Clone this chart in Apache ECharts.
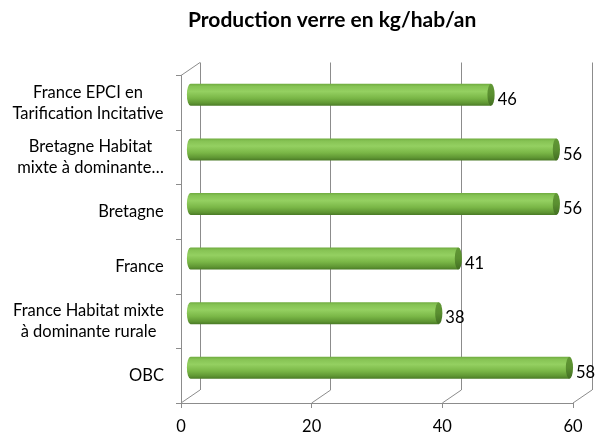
<!DOCTYPE html>
<html><head><meta charset="utf-8">
<script src="https://cdn.jsdelivr.net/npm/echarts@6/dist/echarts.min.js"></script>
<style>html,body{margin:0;padding:0;background:#fff}#c{width:595px;height:439px}</style>
</head><body><div id="c"></div>
<script>
const categories = [
  "France EPCI en\nTarification Incitative",
  "Bretagne Habitat\nmixte à dominante…",
  "Bretagne",
  "France",
  "France Habitat mixte\nà dominante rurale",
  "OBC"
];
const values = [46, 56, 56, 41, 38, 58];
const xTicks = [0, 20, 40, 60];
const titleText = "Production verre en kg/hab/an";

const FONT = "Lato";
const CAT_SIZE = 16.5;
const NUM_SIZE = 16.5;
const GRID_COLOR = "#8c8c8c";
const DX = 19, DY = -13;

// measure lines to centre multi-line labels in a right-aligned box
const ctx = document.createElement('canvas').getContext('2d');
ctx.font = CAT_SIZE + "px " + FONT;
const rich = {};
const labelMap = {};
categories.forEach((c, i) => {
  const lines = c.split('\n');
  const w = Math.max(...lines.map(l => ctx.measureText(l).width));
  rich['l' + i] = {width: Math.ceil(w), align: 'center', fontFamily: FONT, fontSize: CAT_SIZE, color: '#000', lineHeight: 21};
  labelMap[c] = lines.map(l => '{l' + i + '|' + l + '}').join('\n');
});

const chart = echarts.init(document.getElementById('c'), null, {renderer: 'canvas'});

function cylinder(params, api) {
  const v = api.value(0), ci = api.value(1);
  const p0 = api.coord([0, ci]);
  const p1 = api.coord([v, ci]);
  const h = 22, rx = 3.6, ry = h / 2;
  const cy = p0[1] - 8;
  const x0 = p0[0] + 9.5, x1 = p1[0] + 9.5;
  const top = cy - ry, bot = cy + ry;
  const grad = new echarts.graphic.LinearGradient(0, 0, 0, 1, [
    {offset: 0, color: '#6fab3f'},
    {offset: 0.12, color: '#86c354'},
    {offset: 0.35, color: '#94d061'},
    {offset: 0.65, color: '#7ab747'},
    {offset: 0.88, color: '#5f9633'},
    {offset: 1, color: '#4a7a26'}
  ]);
  const capGrad = new echarts.graphic.LinearGradient(0, 0, 0, 1, [
    {offset: 0, color: '#629836'},
    {offset: 0.5, color: '#5a8f30'},
    {offset: 1, color: '#426e22'}
  ]);
  return {
    type: 'group',
    children: [
      {type: 'path', shape: {pathData:
        `M${x0} ${top} L${x1} ${top} L${x1} ${bot} L${x0} ${bot} A${rx} ${ry} 0 0 1 ${x0} ${top} Z`},
        style: {fill: grad, stroke: null}},
      {type: 'path', shape: {pathData:
        `M${x1} ${top} A${rx} ${ry} 0 1 1 ${x1} ${bot} A${rx} ${ry} 0 1 1 ${x1} ${top} Z`},
        style: {fill: capGrad, stroke: null}},
      {type: 'text', style: {text: String(v), x: x1 + rx + 3, y: cy + 5,
        fill: '#000', font: NUM_SIZE + 'px ' + FONT, textVerticalAlign: 'middle', textAlign: 'left'}}
    ]
  };
}

function floorLines(params, api) {
  const cs = params.coordSys;
  const p = api.coord([api.value(0), 0]);
  const bottom = cs.y + cs.height;
  const children = [
    {type: 'line', shape: {x1: p[0], y1: bottom, x2: p[0] + DX, y2: bottom + DY},
     style: {stroke: GRID_COLOR, lineWidth: 1}}
  ];
  if (params.dataIndex === 0) {
    children.push({type: 'line', shape: {x1: cs.x, y1: cs.y, x2: cs.x + DX, y2: cs.y + DY},
      style: {stroke: GRID_COLOR, lineWidth: 1}});
  }
  return {type: 'group', children};
}

const option = {
  backgroundColor: '#fff',
  animation: false,
  title: {
    text: titleText, left: 183, top: 5,
    textStyle: {fontFamily: FONT, fontSize: 21, fontWeight: 'bold', color: '#000'}
  },
  grid: [
    {left: 181, right: 22, top: 75.5, bottom: 36},
    {left: 200, right: 3, top: 62.5, bottom: 49}
  ],
  xAxis: [
    {gridIndex: 0, type: 'value', min: 0, max: 60, interval: 20,
     axisLine: {show: true, lineStyle: {color: GRID_COLOR}},
     axisTick: {show: true, length: 5, lineStyle: {color: GRID_COLOR}},
     splitLine: {show: false},
     axisLabel: {margin: 15, fontFamily: FONT, fontSize: NUM_SIZE, color: '#000'}},
    {gridIndex: 1, type: 'value', min: 0, max: 60, interval: 20,
     axisLine: {show: false}, axisTick: {show: false}, axisLabel: {show: false},
     splitLine: {show: true, lineStyle: {color: GRID_COLOR, width: 1}}}
  ],
  yAxis: [
    {gridIndex: 0, type: 'category', data: categories, inverse: true,
     axisLine: {show: true, lineStyle: {color: GRID_COLOR}},
     axisTick: {show: true, length: 5, alignWithLabel: false, lineStyle: {color: GRID_COLOR}},
     axisLabel: {margin: 17, formatter: v => labelMap[v], rich: rich, align: 'right'}},
    {gridIndex: 1, type: 'category', data: categories, inverse: true, show: false}
  ],
  series: [
    {type: 'custom', xAxisIndex: 0, yAxisIndex: 0, renderItem: floorLines,
     data: xTicks.map(t => [t]), encode: {x: 0}, z: 1, silent: true},
    {type: 'custom', xAxisIndex: 0, yAxisIndex: 0, renderItem: cylinder,
     data: values.map((v, i) => [v, i]), encode: {x: 0, y: 1}, z: 5, silent: true}
  ]
};
chart.setOption(option);
</script>
</body></html>
